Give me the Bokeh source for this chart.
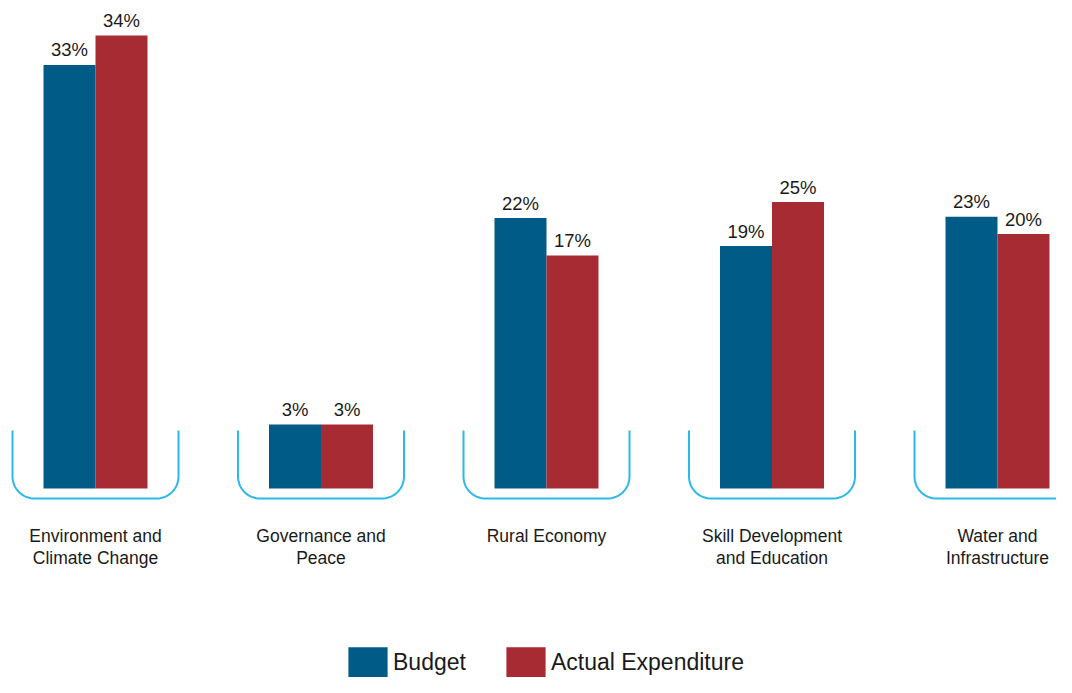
from bokeh.plotting import figure
from bokeh.models import Range1d, ColumnDataSource, Legend, LegendItem
from bokeh.core.properties import value
from bokeh.embed import file_html
from bokeh.resources import INLINE
import numpy as np

# ---- data (bar heights, labels as printed) ----
categories = ["Environment and\nClimate Change", "Governance and\nPeace", "Rural Economy",
              "Skill Development\nand Education", "Water and\nInfrastructure"]
budget = [31.8, 4.8, 20.3, 18.2, 20.4]
actual = [34.0, 4.8, 17.5, 21.5, 19.1]
budget_labels = ["33%", "3%", "22%", "19%", "23%"]
actual_labels = ["34%", "3%", "17%", "25%", "20%"]

BLUE = "#005B87"
RED = "#A62B33"
BRACKET = "#2BB8EA"
TEXT = "#1a1a1a"
FONT_NAME = "Liberation Sans"
FONT = value(FONT_NAME)

W, H = 1056, 677
PX_X = 225.5   # pixels per category
PX_Y = 13.32   # pixels per unit
x0_px, y0_px = 95, 488
x_start = -x0_px / PX_X
x_end = x_start + W / PX_X
y_end = y0_px / PX_Y
y_start = y_end - H / PX_Y

p = figure(width=W, height=H, output_backend="svg", toolbar_location=None,
           x_range=Range1d(x_start, x_end), y_range=Range1d(y_start, y_end),
           x_axis_location=None, y_axis_location=None, min_border=0,
           background_fill_color="white", border_fill_color="white")
p.outline_line_color = None
p.grid.visible = False

idx = np.arange(len(categories))
bw = 52 / PX_X
src_b = ColumnDataSource(dict(x=idx - bw / 2, top=budget, lab=budget_labels))
src_a = ColumnDataSource(dict(x=idx + bw / 2, top=actual, lab=actual_labels))

# brackets
hw = 83 / PX_X
top_y = 58 / PX_Y
bot_y = -10 / PX_Y
rx, ry = 22 / PX_X, 22 / PX_Y
t = np.linspace(0, np.pi / 2, 20)
xs, ys = [], []
for c in idx:
    L, R = c - hw, c + hw
    bx = [L] + list(L + rx - rx * np.cos(t)) + list(R - rx + rx * np.sin(t)) + [R]
    by = [top_y] + list(bot_y + ry - ry * np.sin(t)) + list(bot_y + ry - ry * np.cos(t)) + [top_y]
    xs.append(bx)
    ys.append(by)
p.multi_line(xs=xs, ys=ys, line_color=BRACKET, line_width=2)

rb = p.vbar(x="x", top="top", bottom=0, width=bw, source=src_b, fill_color=BLUE, line_color=None)
ra = p.vbar(x="x", top="top", bottom=0, width=bw, source=src_a, fill_color=RED, line_color=None)

p.text(x="x", y="top", text="lab", source=src_b, y_offset=-15, text_align="center",
       text_baseline="alphabetic", text_font=FONT, text_font_size="18.5px", text_color=TEXT)
p.text(x="x", y="top", text="lab", source=src_a, y_offset=-15, text_align="center",
       text_baseline="alphabetic", text_font=FONT, text_font_size="18.5px", text_color=TEXT)

cat_y = -37 / PX_Y
p.text(x=idx, y=[cat_y] * len(idx), text=categories, text_align="center", text_baseline="top",
       text_font=FONT, text_font_size="17.5px", text_color=TEXT, text_line_height=1.1)

legend = Legend(items=[LegendItem(label="Budget", renderers=[rb]),
                       LegendItem(label="Actual Expenditure", renderers=[ra])],
                orientation="horizontal", location=(343, -4),
                glyph_width=49, glyph_height=38, label_standoff=1, spacing=35,
                padding=0, margin=0, border_line_color=None, background_fill_alpha=0,
                label_text_font=FONT_NAME, label_text_font_size="23px", label_text_color=TEXT)
p.add_layout(legend, "center")

open("out.html", "w").write(file_html(p, INLINE))
